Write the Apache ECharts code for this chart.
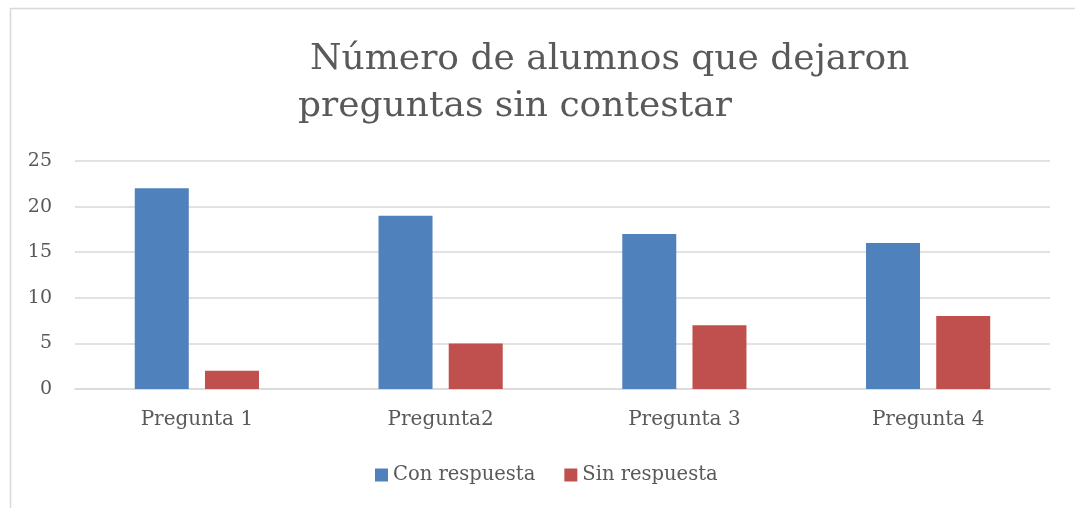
<!DOCTYPE html>
<html><head><meta charset="utf-8">
<script src="https://cdn.jsdelivr.net/npm/echarts@6/dist/echarts.min.js"></script>
<style>html,body{margin:0;padding:0;background:#fff}#c{width:1075px;height:508px}</style>
</head><body><div id="c"></div>
<script>
const categories = ['Pregunta 1', 'Pregunta2', 'Pregunta 3', 'Pregunta 4'];
const conRespuesta = [22, 19, 17, 16];
const sinRespuesta = [2, 5, 7, 8];
const titleLines = ['Número de alumnos que dejaron', 'preguntas sin contestar'];
const FONT = 'DejaVu Serif';
const chart = echarts.init(document.getElementById('c'));
chart.setOption({
  animation: false,
  backgroundColor: '#fff',
  graphic: [{type:'rect', shape:{x:10.5,y:8.5,width:1100,height:600}, style:{fill:'none', stroke:'#d9d9d9', lineWidth:1.5}, silent:true}],
  title: [
    {text: titleLines[0], left: 305, top: 37, textStyle:{fontFamily:FONT, fontSize:36, fontWeight:'normal', color:'#595959'}},
    {text: titleLines[1], left: 293, top: 84, textStyle:{fontFamily:FONT, fontSize:36, fontWeight:'normal', color:'#595959'}}
  ],
  legend: {
    top: 460, left: 370, itemWidth: 13, itemHeight: 13, itemGap: 29,
    icon: 'rect',
    textStyle: {fontFamily: FONT, fontSize: 19.5, color: '#595959'},
    data: ['Con respuesta', 'Sin respuesta']
  },
  grid: {left: 75, right: 25, top: 161, bottom: 119, containLabel: false},
  xAxis: {
    type: 'category', data: categories,
    axisLine: {lineStyle: {color: '#d9d9d9', width: 1.5}},
    axisTick: {show: false},
    axisLabel: {fontFamily: FONT, fontSize: 20, color: '#595959', margin: 21}
  },
  yAxis: {
    type: 'value', min: 0, max: 25, interval: 5,
    axisLine: {show: false}, axisTick: {show: false},
    splitLine: {lineStyle: {color: '#d9d9d9', width: 1.5}},
    axisLabel: {fontFamily: FONT, fontSize: 19, color: '#595959', margin: 23}
  },
  series: [
    {name: 'Con respuesta', type: 'bar', data: conRespuesta, barWidth: 54, barGap: '30%', itemStyle: {color: '#4f81bd'}},
    {name: 'Sin respuesta', type: 'bar', data: sinRespuesta, barWidth: 54, itemStyle: {color: '#c0504d'}}
  ]
});
</script></body></html>
